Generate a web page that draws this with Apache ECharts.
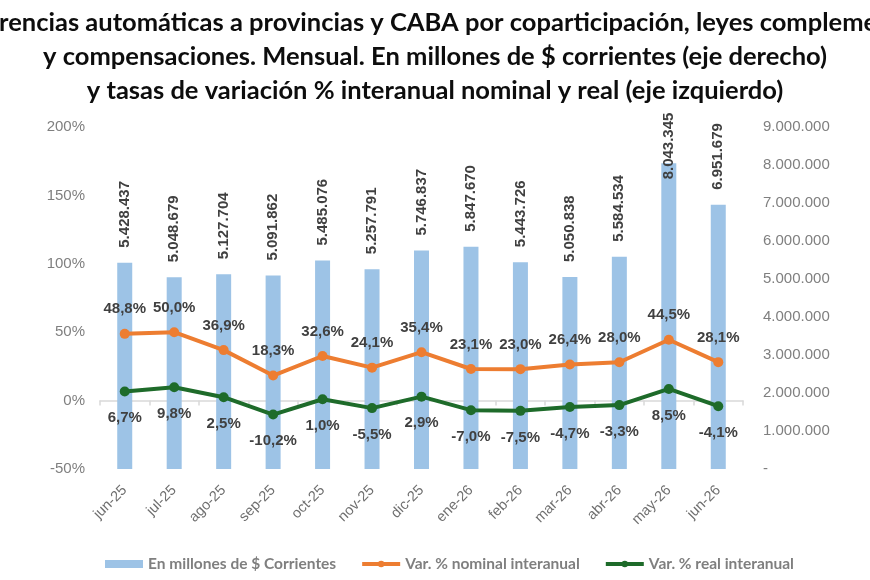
<!DOCTYPE html>
<html>
<head>
<meta charset="utf-8">
<script src="https://cdn.jsdelivr.net/npm/echarts@6/dist/echarts.min.js"></script>
<style>
  html, body { margin: 0; padding: 0; background: #fff; }
  #chart { width: 870px; height: 580px; }
</style>
</head>
<body>
<div id="chart"></div>
<script>
const months = ["jun-25", "jul-25", "ago-25", "sep-25", "oct-25", "nov-25", "dic-25",
  "ene-26", "feb-26", "mar-26", "abr-26", "may-26", "jun-26"];
const corrientes = [5428437, 5048679, 5127704, 5091862, 5485076, 5257791, 5746837,
  5847670, 5443726, 5050838, 5584534, 8043345, 6951679];
const nominal = [48.8, 50.0, 36.9, 18.3, 32.6, 24.1, 35.4, 23.1, 23.0, 26.4, 28.0, 44.5, 28.1];
const real = [6.7, 9.8, 2.5, -10.2, 1.0, -5.5, 2.9, -7.0, -7.5, -4.7, -3.3, 8.5, -4.1];

const titleText = "Transferencias automáticas a provincias y CABA por coparticipación, leyes complementarias\n" +
  "y compensaciones. Mensual. En millones de $ corrientes (eje derecho)\n" +
  "y tasas de variación % interanual nominal y real (eje izquierdo)";

// 5428437 -> "5.428.437"
function miles(v) {
  return String(Math.round(v)).replace(/\B(?=(\d{3})+(?!\d))/g, ".");
}
function pct(v) {
  return v.toFixed(1).replace(".", ",") + "%";
}

const labelFont = { fontFamily: "Liberation Sans", fontSize: 15, fontWeight: "bold", color: "#404040" };

// the tallest bar's label is pushed down into the plot, like the original
const barData = corrientes.map((v) =>
  v > 8000000 ? { value: v, label: { distance: -16 } } : v
);

const chart = echarts.init(document.getElementById("chart"));
chart.setOption({
  animation: false,
  backgroundColor: "#fff",
  title: {
    text: titleText,
    left: "center",
    top: 1,
    textStyle: {
      fontFamily: "Lato",
      fontSize: 25.5,
      fontWeight: "bold",
      color: "#0d0d0d",
      lineHeight: 34,
    },
  },
  legend: {
    top: 551,
    left: 100,
    itemGap: 24,
    itemWidth: 38,
    itemHeight: 8,
    textStyle: {
      fontFamily: "Lato",
      fontSize: 15.5,
      fontWeight: "bold",
      color: "#7f7f7f",
    },
    data: [
      { name: "En millones de $ Corrientes", icon: "rect" },
      { name: "Var. % nominal interanual", lineStyle: { width: 4 } },
      { name: "Var. % real interanual", lineStyle: { width: 4 } },
    ],
  },
  grid: { left: 100, right: 127, top: 127, bottom: 111 },
  xAxis: {
    type: "category",
    data: months,
    axisLine: { lineStyle: { color: "#d9d9d9", width: 1.5 } },
    axisTick: { show: true, length: 5, lineStyle: { color: "#d9d9d9", width: 1.5 } },
    axisLabel: {
      rotate: 45,
      fontFamily: "Liberation Sans",
      fontSize: 14.5,
      color: "#6f6f6f",
      margin: 19,
    },
  },
  yAxis: [
    {
      type: "value",
      min: -50,
      max: 200,
      interval: 50,
      splitLine: { show: false },
      axisLine: { show: false },
      axisTick: { show: false },
      axisLabel: {
        formatter: (v) => v + "%",
        fontFamily: "Liberation Sans",
        fontSize: 15,
        color: "#7f7f7f",
        margin: 15,
      },
    },
    {
      type: "value",
      min: 0,
      max: 9000000,
      interval: 1000000,
      splitLine: { show: false },
      axisLine: { show: false },
      axisTick: { show: false },
      axisLabel: {
        formatter: (v) => (v === 0 ? "-" : miles(v)),
        fontFamily: "Liberation Sans",
        fontSize: 15,
        color: "#7f7f7f",
        margin: 20,
      },
    },
  ],
  series: [
    {
      name: "En millones de $ Corrientes",
      type: "bar",
      yAxisIndex: 1,
      data: barData,
      barWidth: 15,
      itemStyle: { color: "#9dc3e6" },
      label: {
        show: true,
        position: "top",
        rotate: 90,
        align: "left",
        verticalAlign: "middle",
        distance: 15,
        formatter: (p) => miles(p.value),
        ...labelFont,
      },
      z: 1,
    },
    {
      name: "Var. % nominal interanual",
      type: "line",
      yAxisIndex: 0,
      data: nominal,
      symbol: "circle",
      symbolSize: 10,
      lineStyle: { color: "#ed7d31", width: 4 },
      itemStyle: { color: "#ed7d31" },
      label: {
        show: true,
        position: "top",
        distance: 12,
        formatter: (p) => pct(p.value),
        ...labelFont,
      },
      z: 3,
    },
    {
      name: "Var. % real interanual",
      type: "line",
      yAxisIndex: 0,
      data: real,
      symbol: "circle",
      symbolSize: 10,
      lineStyle: { color: "#1e6b2a", width: 4 },
      itemStyle: { color: "#1e6b2a" },
      label: {
        show: true,
        position: "bottom",
        distance: 14,
        formatter: (p) => pct(p.value),
        ...labelFont,
      },
      z: 3,
    },
  ],
});
</script>
</body>
</html>
